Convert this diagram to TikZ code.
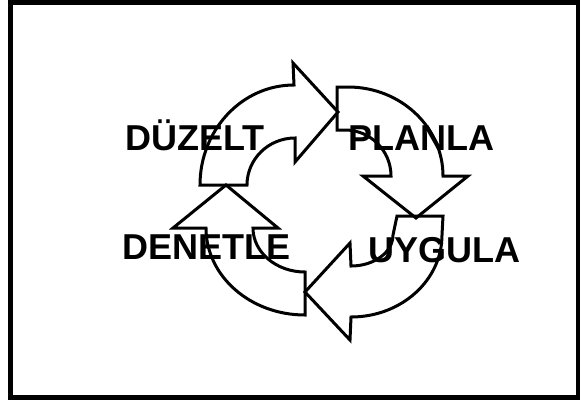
\documentclass[tikz,border=0pt]{standalone}
\usepackage{fontspec}
\setmainfont{Liberation Sans}
\begin{document}
\begin{tikzpicture}[x=1pt,y=-1pt,
  cyc/.style={draw=black,line width=3pt,line join=miter},
  lbl/.style={anchor=base west,inner sep=0pt,font=\fontsize{36}{40}\selectfont\bfseries}]
\useasboundingbox (0,0) rectangle (580,400);
\draw[line width=5pt] (10,2.5) rectangle (578,397.5);
% arrow 1: DUZELT -> PLANLA
\draw[cyc] (200,185) -- (247,185) arc(-180:-90:48 and 47)
  -- (295,162) -- (338,112) -- (293,63) -- (294,85)
  arc(-90:-180:94 and 100) -- cycle;
% arrow 2: PLANLA -> UYGULA
\draw[cyc] (337,130) -- (337,87) -- (348,87) arc(-90:0:95 and 89)
  -- (468,176) -- (416,218) -- (363,176) -- (391,176)
  arc(0:-90:46 and 46) -- cycle;
% arrow 3: UYGULA -> DENETLE
\draw[cyc] (397,216) -- (443,216) -- (442,235) arc(0:90:91 and 82)
  -- (350,340) -- (305,292) -- (350,243) -- (351,266)
  arc(90:0:42 and 31) -- cycle;
% arrow 4: DENETLE -> DUZELT
\draw[cyc] (305,272) -- (305,315) arc(90:180:99 and 87)
  -- (173,228) -- (226,185) -- (278,228) -- (253,228)
  arc(-180:-270:52 and 44) -- cycle;
\node[lbl] (duz) at (125,150) {DÜZELT};
\node[lbl] (pla) at (348,150) {PLANLA};
\node[lbl] (uyg) at (368,262) {UYGULA};
\node[lbl] (den) at (122,259) {DENETLE};
\end{tikzpicture}
\end{document}
